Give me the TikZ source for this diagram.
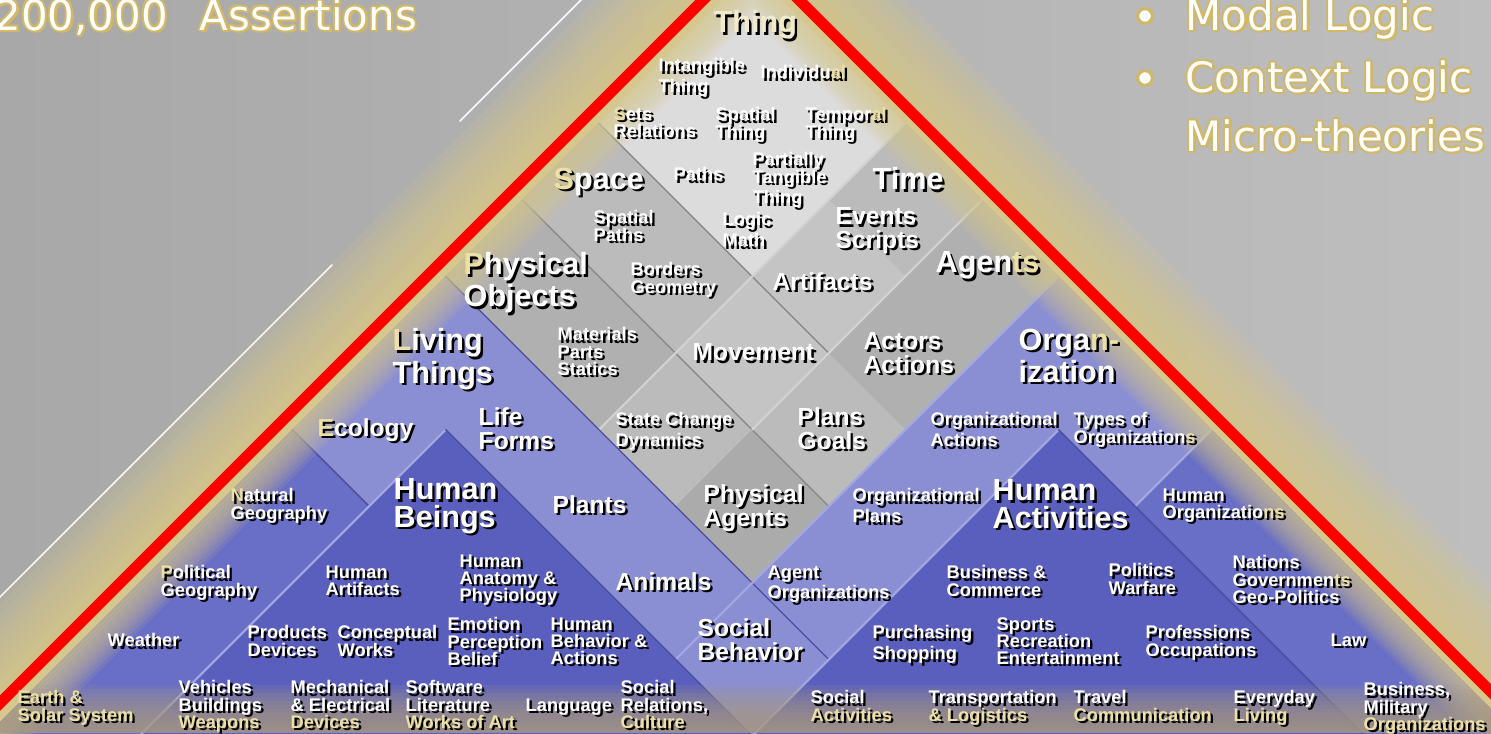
\documentclass[tikz,border=0pt]{standalone}
\usepackage{fontspec}
\setmainfont{Liberation Sans}
\newfontfamily\ttlface{DejaVu Sans}

\definecolor{bgL}{HTML}{A8A8A8}
\definecolor{bgR}{HTML}{BEBEBE}
\definecolor{glow}{HTML}{D6C78C}
\definecolor{redline}{HTML}{FF0000}
\definecolor{greyA}{HTML}{B0B0B0}
\definecolor{greyB}{HTML}{BBBBBB}
\definecolor{greyC}{HTML}{C4C4C4}
\definecolor{greyD}{HTML}{ABABAB}
\definecolor{thingbg}{HTML}{DCDCDC}
\definecolor{blueL}{HTML}{8A8ED2}
\definecolor{blueM}{HTML}{696EC6}
\definecolor{blueD}{HTML}{5A5EBD}
\definecolor{lineD}{HTML}{8A8A8A}
\definecolor{lineL}{HTML}{D2D2D2}
\definecolor{lineDb}{HTML}{4A4E9E}
\definecolor{lineLb}{HTML}{A4A8E2}
\definecolor{bandc}{HTML}{A89A82}
\definecolor{goldtxt}{HTML}{EDE0A5}
\definecolor{thingtxt}{HTML}{F2EBCB}
\definecolor{ttlgold}{HTML}{D0B868}

\newcommand\goldletters[1]{\textcolor{goldtxt}{#1}}
\let\gl\goldletters

\tikzset{
  pq/.style={x={(0.005cm,-0.005cm)},y={(0.005cm,0.005cm)}},
  lbl/.style={align=left,anchor=north west,inner sep=0pt,text=white,
    font=\bfseries\fontsize{5.2}{4.85}\selectfont,
    execute at begin node={\global\let\gl\goldletters}},
  lblM/.style={lbl,font=\bfseries\fontsize{7}{6.7}\selectfont},
  lblB/.style={lbl,font=\bfseries\fontsize{8.7}{7.9}\selectfont},
  dropshadow/.style={text=black,execute at begin node={\global\let\gl\relax}},
  ttlfont/.style={anchor=base west,inner sep=0pt,text=white,
    font=\ttlface\fontsize{11.9}{14}\selectfont},
  lnD/.style={draw=lineD,line width=0.4pt},
  lnL/.style={draw=lineL,line width=0.6pt},
  lnDb/.style={draw=lineDb,line width=0.4pt},
  lnLb/.style={draw=lineLb,line width=0.6pt},
  wline/.style={draw=white,line width=0.45pt},
  bullet/.style={circle,fill=white,draw=ttlgold,line width=0.9pt,minimum size=4.2pt,inner sep=0pt}
}

% label with drop shadow: [style]{x,y}{name}{text}
\newcommand\lab[4][lbl]{%
  \node[#1,dropshadow] at ([shift={(2.4,2.4)}]#2) {#4};
  \node[#1] (#3) at (#2) {#4};}

% white title text with gold rim
\newcommand\ttl[3]{%
  \foreach \dx/\dy in {-2/0,2/0,0/-2,0/2,-1.4/-1.4,1.4/1.4,-1.4/1.4,1.4/-1.4,2.4/2.6}
    {\node[ttlfont,text=ttlgold] at ([shift={(\dx,\dy)}]#1) {#3};}
  \node[ttlfont] (#2) at (#1) {#3};}

\begin{document}
\begin{tikzpicture}[x=0.01cm,y=-0.01cm,line cap=round,line join=round]
\useasboundingbox (0,0) rectangle (1491,733);
\clip (0,0) rectangle (1491,733);
\shade[left color=bgL,right color=bgR] (0,0) rectangle (1491,733);

\coordinate (wl1a) at (460,121);
\coordinate (wl1b) at (583,-2);
\coordinate (wl2a) at (332,265);
\coordinate (wl2b) at (-2,599);
\draw[wline] (wl1a) -- (wl1b);
\draw[wline] (wl2a) -- (wl2b);

% grid in (p,q) = (x+y, x-y)
\begin{scope}[pq]
  \foreach \i in {0,...,12}
    \foreach \j in {0,...,12}
      \coordinate (g\i-\j) at (721+153*\i,781-153*\j);
  % glow outside the red edge
  \foreach \k in {1,...,16}{
    \pgfmathsetmacro\gw{100*(\k/16)^1.6}
    \fill[glow,opacity=0.15] (694,-1100) -- (694,806) -- (2700,806) -- (2700,806+\gw)
      -- (694-\gw,806+\gw) -- (694-\gw,-1100) -- cycle;
  }
  \fill[glow] (702,-1100) -- (702,798) -- (2700,798) -- cycle;
\end{scope}

\begin{scope}
  \clip (g0-0) -- (g0-12) -- (g12-0) -- cycle;
  % grey part
  \fill[greyA] (g0-0) -- (g4-0) -- (g4-4) -- (g0-4) -- cycle;
  \fill[greyB] (g0-2) -- (g4-2) -- (g4-3) -- (g0-3) -- cycle;
  \fill[greyB] (g2-0) -- (g3-0) -- (g3-4) -- (g2-4) -- cycle;
  \fill[greyC] (g2-1) -- (g3-1) -- (g3-3) -- (g2-3) -- cycle;
  \fill[greyD] (g3-3) -- (g4-3) -- (g4-4) -- (g3-4) -- cycle;
  \fill[thingbg] (g0-0) -- (g2-0) -- (g2-2) -- (g0-2) -- cycle;
  % blue part
  \fill[blueL] (g0-4) -- (g12-4) -- (g12-12) -- (g0-12) -- cycle;
  \fill[blueL] (g4-0) -- (g12-0) -- (g12-12) -- (g4-12) -- cycle;
  \fill[blueM] (g0-6) -- (g12-6) -- (g12-12) -- (g0-12) -- cycle;
  \fill[blueM] (g6-0) -- (g12-0) -- (g12-12) -- (g6-12) -- cycle;
  \fill[blueD] (g1-5) -- (g12-5) -- (g12-12) -- (g1-12) -- cycle;
  \fill[blueD] (g5-1) -- (g12-1) -- (g12-12) -- (g5-12) -- cycle;
  % edges
  \draw[lnD] (g0-2) -- (g3-2);
  \draw[lnD] (g0-3) -- (g4-3);
  \draw[lnL] (g2-0) -- (g2-4);
  \draw[lnL] (g3-0) -- (g3-3);
  \draw[lnDb] (g0-4) -- (g5-4);
  \draw[lnLb] (g4-0) -- (g4-5);
  \draw[lnDb] (g0-6) -- (g1-6);
  \draw[lnLb] (g6-0) -- (g6-1);
  \draw[lnLb] (g1-5) -- (g1-12);
  \draw[lnDb] (g1-5) -- (g12-5);
  \draw[lnLb] (g5-1) -- (g5-12);
  \draw[lnDb] (g5-1) -- (g12-1);
  % glow inside the edge
  \begin{scope}[pq]
    \foreach \k in {1,...,10}{
      \pgfmathsetmacro\gw{4.8*\k}
      \fill[glow,opacity=0.12] (721,-1100) -- (721,781) -- (2700,781) -- (2700,781-\gw)
        -- (721+\gw,781-\gw) -- (721+\gw,-1100) -- cycle;
    }
  \end{scope}
  % darker band at the foot
  \foreach \k in {1,...,12}
    \fill[bandc,opacity=0.15] (0,{733-4*\k}) rectangle (1491,733);
\end{scope}

\begin{scope}[pq]
  \draw[redline,line width=3.1pt,line join=miter] (702,-1100) -- (702,798) -- (2700,798);
\end{scope}

% labels
\lab[lblB,text=thingtxt]{713,10}{thing}{Thing}
\lab{658,58}{intang}{Intangible\\Thing}
\lab{760,65}{indiv}{Individu\gl{al}}
\lab{613,107}{sets}{\gl{S}ets\\Relations}
\lab{715,107}{spthing}{Spatial\\Thing}
\lab{805,107}{tpthing}{Tempor\gl{al}\\Thing}
\lab[lblB]{553,167}{space}{\gl{S}pace}
\lab{673,167}{paths}{Paths}
\lab{752,152}{ptt}{Partially\\Tangible\\Thing}
\lab[lblB]{872,167}{time}{Time}
\lab{593,210}{sppaths}{Spatial\\Paths}
\lab{722,212}{logic}{Logic\\Math}
\lab[lblM]{835,207}{events}{Events\\Scripts}
\lab[lblB]{463,252}{physobj}{\gl{P}hysical\\Objects}
\lab{630,262}{borders}{Borders\\Geometry}
\lab[lblM]{772,272}{artif}{Artifacts}
\lab[lblB]{935,251}{agents}{Agen\gl{ts}}
\lab[lblB]{392,328}{living}{\gl{L}iving\\Things}
\lab{557,327}{materials}{Materials\\Parts\\Statics}
\lab[lblM]{692,343}{movement}{Movement}
\lab[lblM]{863,332}{actors}{Actors\\Actions}
\lab[lblB]{1018,328}{organiz}{Orga\gl{n-}\\ization}
\lab[lblM]{317,418}{ecology}{\gl{E}cology}
\lab[lblM]{478,407}{lifeforms}{Life\\Forms}
\lab{615,412}{statechg}{State Change\\Dynamics}
\lab[lblM]{797,407}{plans}{Plans\\Goals}
\lab{930,412}{orgact}{Organizational\\Actions}
\lab{1073,412}{typesorg}{Types of\\Organization\gl{s}}
\lab{230,488}{natgeo}{\gl{N}atural\\Geography}
\lab[lblB]{393,478}{humanb}{Human\\Beings}
\lab[lblM]{552,495}{plants}{Plants}
\lab[lblM]{703,484}{physag}{Physical\\Agents}
\lab{852,488}{orgplans}{Organizational\\Plans}
\lab[lblB]{992,479}{humana}{Human\\Activities}
\lab{1162,488}{humorg}{Human\\Organizatio\gl{ns}}
\lab{160,565}{polgeo}{\gl{P}olitical\\Geography}
\lab{325,565}{humart}{Human\\Artifacts}
\lab{459,554}{anatomy}{Human\\Anatomy \&\\Physiology}
\lab[lblM]{615,572}{animals}{Animals}
\lab{767,565}{agentorg}{Agent\\Organizations}
\lab{946,565}{business}{Business \&\\Commerce}
\lab{1108,563}{politics}{Politics\\Warfare}
\lab{1232,555}{nations}{Nations\\Governmen\gl{ts}\\Geo-Politics}
\lab{107,633}{weather}{Weather}
\lab{247,625}{products}{Products\\Devices}
\lab{337,625}{concept}{Conceptual\\Works}
\lab{447,617}{emotion}{Emotion\\Perception\\Belief}
\lab{550,617}{behavior}{Human\\Behavior \&\\Actions}
\lab[lblM]{697,618}{socbeh}{Social\\Behavior}
\lab{872,625}{purchase}{Purchasing\\Shopping}
\lab{996,617}{sports}{Sports\\Recreation\\Entertainment}
\lab{1145,625}{profess}{Professions\\Occupations}
\lab{1330,633}{law}{Law}
\lab{17,690}{earth}{\gl{Earth \&}\\\gl{Solar System}}
\lab{178,680}{vehicles}{Vehicles\\Buildings\\\gl{Weapons}}
\lab{290,680}{mechan}{Mechanical\\\& Electrical\\\gl{Devices}}
\lab{405,680}{software}{Software\\Literature\\\gl{Works of Art}}
\lab{525,698}{language}{Language}
\lab{620,680}{socrel}{Social\\Relations,\\\gl{Culture}}
\lab{810,690}{socact}{Social\\\gl{Activities}}
\lab{928,690}{transport}{Transportation\\\gl{\& Logistics}}
\lab{1073,690}{travel}{Travel\\\gl{Communication}}
\lab{1233,690}{everyday}{Everyday\\\gl{Living}}
\lab{1363,682}{bizmil}{Business,\\Military\\\gl{Organizations}}

% titles
\ttl{-6,30}{count}{200,000}
\ttl{199,30}{assert}{Assertions}
\node[bullet] (bul1) at (1145,16) {};
\node[bullet] (bul2) at (1145,78) {};
\ttl{1185,30}{modal}{Modal Logic}
\ttl{1185,92}{context}{Context Logic}
\ttl{1185,151}{micro}{Micro-theories}
\end{tikzpicture}
\end{document}
